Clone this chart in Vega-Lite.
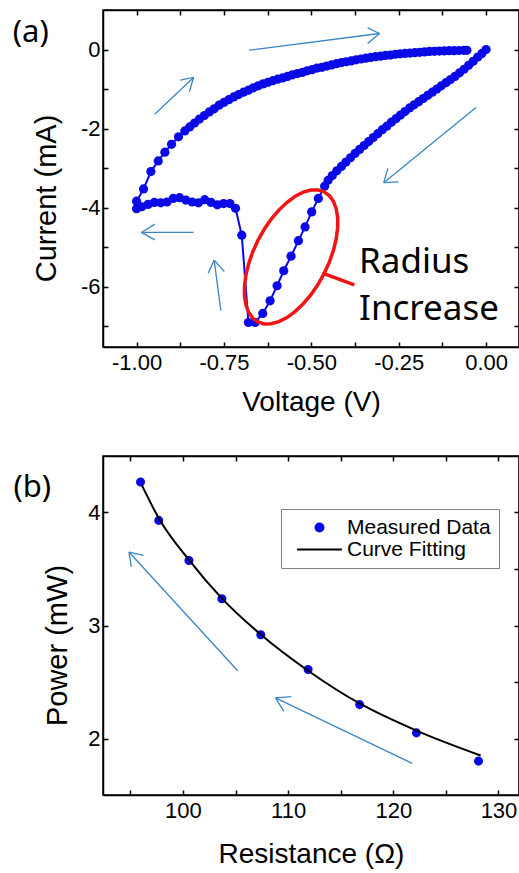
{
  "$schema": "https://vega.github.io/schema/vega-lite/v6.json",
  "background": "white",
  "padding": {"left": 12, "top": 8, "right": 0, "bottom": 0},
  "spacing": 37,
  "config": {
    "view": {"stroke": "black", "strokeWidth": 1.5},
    "axis": {
      "grid": false,
      "domainColor": "black",
      "domainWidth": 1.5,
      "tickColor": "black",
      "tickWidth": 1.5,
      "tickSize": -5,
      "labelFont": "Liberation Sans",
      "labelFontSize": 22,
      "labelColor": "black",
      "labelPadding": 10,
      "labelOverlap": false,
      "labelFlush": false,
      "titleFont": "Liberation Sans",
      "titleFontWeight": "normal",
      "titleColor": "black"
    },
    "axisX": {"titleFontSize": 28},
    "axisY": {"titleFontSize": 29, "labelPadding": 8}
  },
  "datasets": {
    "iv": [
      {"i":0,"V":0,"I":0},{"i":1,"V":-0.012,"I":-0.10},{"i":2,"V":-0.024,"I":-0.19},{"i":3,"V":-0.037,"I":-0.30},
      {"i":4,"V":-0.050,"I":-0.40},{"i":5,"V":-0.063,"I":-0.50},{"i":6,"V":-0.076,"I":-0.59},{"i":7,"V":-0.089,"I":-0.68},
      {"i":8,"V":-0.102,"I":-0.76},{"i":9,"V":-0.115,"I":-0.84},{"i":10,"V":-0.128,"I":-0.92},{"i":11,"V":-0.141,"I":-1.00},
      {"i":12,"V":-0.154,"I":-1.08},{"i":13,"V":-0.167,"I":-1.16},{"i":14,"V":-0.180,"I":-1.24},{"i":15,"V":-0.193,"I":-1.32},
      {"i":16,"V":-0.206,"I":-1.40},{"i":17,"V":-0.219,"I":-1.48},{"i":18,"V":-0.232,"I":-1.57},{"i":19,"V":-0.245,"I":-1.66},
      {"i":20,"V":-0.258,"I":-1.75},{"i":21,"V":-0.271,"I":-1.84},{"i":22,"V":-0.284,"I":-1.94},{"i":23,"V":-0.297,"I":-2.03},
      {"i":24,"V":-0.310,"I":-2.13},{"i":25,"V":-0.323,"I":-2.23},{"i":26,"V":-0.336,"I":-2.33},{"i":27,"V":-0.349,"I":-2.43},
      {"i":28,"V":-0.362,"I":-2.53},{"i":29,"V":-0.375,"I":-2.63},{"i":30,"V":-0.388,"I":-2.74},{"i":31,"V":-0.401,"I":-2.85},
      {"i":32,"V":-0.414,"I":-2.96},{"i":33,"V":-0.427,"I":-3.07},{"i":34,"V":-0.440,"I":-3.19},{"i":35,"V":-0.452,"I":-3.31},
      {"i":36,"V":-0.462,"I":-3.46},
      {"i":37,"V":-0.480,"I":-3.77},{"i":38,"V":-0.499,"I":-4.11},{"i":39,"V":-0.518,"I":-4.49},{"i":40,"V":-0.537,"I":-4.84},
      {"i":41,"V":-0.558,"I":-5.23},{"i":42,"V":-0.579,"I":-5.60},{"i":43,"V":-0.598,"I":-5.98},{"i":44,"V":-0.618,"I":-6.36},
      {"i":45,"V":-0.639,"I":-6.68},{"i":46,"V":-0.661,"I":-6.91},{"i":47,"V":-0.680,"I":-6.91},{"i":48,"V":-0.699,"I":-4.70},
      {"i":49,"V":-0.717,"I":-4.02},
      {"i":50,"V":-0.733,"I":-3.90},{"i":51,"V":-0.751,"I":-3.90},{"i":52,"V":-0.769,"I":-3.93},{"i":53,"V":-0.787,"I":-3.87},
      {"i":54,"V":-0.805,"I":-3.80},{"i":55,"V":-0.823,"I":-3.88},{"i":56,"V":-0.841,"I":-3.86},{"i":57,"V":-0.859,"I":-3.81},
      {"i":58,"V":-0.877,"I":-3.75},{"i":59,"V":-0.895,"I":-3.77},{"i":60,"V":-0.913,"I":-3.86},{"i":61,"V":-0.931,"I":-3.88},
      {"i":62,"V":-0.949,"I":-3.87},{"i":63,"V":-0.967,"I":-3.92},{"i":64,"V":-0.985,"I":-3.98},{"i":65,"V":-1.000,"I":-4.03},
      {"i":66,"V":-1.000,"I":-3.84},
      {"i":67,"V":-0.980,"I":-3.53},{"i":68,"V":-0.959,"I":-3.09},{"i":69,"V":-0.938,"I":-2.82},{"i":70,"V":-0.919,"I":-2.60},
      {"i":71,"V":-0.900,"I":-2.40},{"i":72,"V":-0.880,"I":-2.21},{"i":73,"V":-0.862,"I":-2.06},{"i":74,"V":-0.848,"I":-1.96},
      {"i":75,"V":-0.834,"I":-1.86},{"i":76,"V":-0.820,"I":-1.76},{"i":77,"V":-0.806,"I":-1.67},{"i":78,"V":-0.792,"I":-1.58},
      {"i":79,"V":-0.778,"I":-1.50},{"i":80,"V":-0.764,"I":-1.41},{"i":81,"V":-0.750,"I":-1.34},{"i":82,"V":-0.736,"I":-1.27},
      {"i":83,"V":-0.722,"I":-1.20},{"i":84,"V":-0.708,"I":-1.14},{"i":85,"V":-0.694,"I":-1.08},{"i":86,"V":-0.680,"I":-1.03},
      {"i":87,"V":-0.666,"I":-0.97},{"i":88,"V":-0.652,"I":-0.92},{"i":89,"V":-0.638,"I":-0.87},{"i":90,"V":-0.624,"I":-0.83},
      {"i":91,"V":-0.610,"I":-0.79},{"i":92,"V":-0.596,"I":-0.75},{"i":93,"V":-0.582,"I":-0.72},{"i":94,"V":-0.568,"I":-0.68},
      {"i":95,"V":-0.554,"I":-0.64},{"i":96,"V":-0.540,"I":-0.61},{"i":97,"V":-0.526,"I":-0.58},{"i":98,"V":-0.512,"I":-0.54},
      {"i":99,"V":-0.498,"I":-0.51},{"i":100,"V":-0.484,"I":-0.47},{"i":101,"V":-0.470,"I":-0.45},{"i":102,"V":-0.456,"I":-0.42},
      {"i":103,"V":-0.442,"I":-0.39},{"i":104,"V":-0.428,"I":-0.36},{"i":105,"V":-0.414,"I":-0.33},{"i":106,"V":-0.400,"I":-0.31},
      {"i":107,"V":-0.386,"I":-0.29},{"i":108,"V":-0.372,"I":-0.26},{"i":109,"V":-0.358,"I":-0.24},{"i":110,"V":-0.344,"I":-0.22},
      {"i":111,"V":-0.330,"I":-0.20},{"i":112,"V":-0.316,"I":-0.18},{"i":113,"V":-0.302,"I":-0.17},{"i":114,"V":-0.288,"I":-0.15},
      {"i":115,"V":-0.274,"I":-0.14},{"i":116,"V":-0.260,"I":-0.12},{"i":117,"V":-0.246,"I":-0.11},{"i":118,"V":-0.232,"I":-0.10},
      {"i":119,"V":-0.218,"I":-0.09},{"i":120,"V":-0.204,"I":-0.08},{"i":121,"V":-0.190,"I":-0.07},{"i":122,"V":-0.176,"I":-0.06},
      {"i":123,"V":-0.162,"I":-0.05},{"i":124,"V":-0.148,"I":-0.045},{"i":125,"V":-0.134,"I":-0.04},{"i":126,"V":-0.120,"I":-0.035},
      {"i":127,"V":-0.106,"I":-0.03},{"i":128,"V":-0.092,"I":-0.03},{"i":129,"V":-0.078,"I":-0.025},{"i":130,"V":-0.064,"I":-0.02},
      {"i":131,"V":-0.055,"I":-0.02}
    ],
    "arrowsA": [
      {"x":-0.678,"y":-0.018,"x2":-0.305,"y2":0.405},{"x":-0.339,"y":0.546,"x2":-0.305,"y2":0.405},{"x":-0.339,"y":0.15,"x2":-0.305,"y2":0.405},
      {"x":-0.948,"y":-1.64,"x2":-0.837,"y2":-0.708},{"x":-0.875,"y":-0.776,"x2":-0.837,"y2":-0.708},{"x":-0.849,"y":-1.07,"x2":-0.837,"y2":-0.708},
      {"x":-0.029,"y":-1.47,"x2":-0.293,"y2":-3.37},{"x":-0.281,"y":-3.01,"x2":-0.293,"y2":-3.37},{"x":-0.251,"y":-3.35,"x2":-0.293,"y2":-3.37},
      {"x":-0.837,"y":-4.63,"x2":-0.986,"y2":-4.63},{"x":-0.948,"y":-4.42,"x2":-0.986,"y2":-4.63},{"x":-0.948,"y":-4.82,"x2":-0.986,"y2":-4.63},
      {"x":-0.759,"y":-6.61,"x2":-0.778,"y2":-5.33},{"x":-0.795,"y":-5.66,"x2":-0.778,"y2":-5.33},{"x":-0.749,"y":-5.62,"x2":-0.778,"y2":-5.33}
    ],
    "ellipse": [{"x":-0.558,"y":-5.25}],
    "connector": [{"x":-0.468,"y":-5.66,"x2":-0.377,"y2":-5.96}],
    "radius": [{"x":-0.3636,"y":-5.664,"t":"Radius"},{"x":-0.3636,"y":-6.845,"t":"Increase"}],
    "labelA": [{"x":-1.354,"y":0.19,"t":"(a)"}],
    "measured": [
      {"R":95.97,"P":4.27,"series":"Measured Data"},{"R":97.7,"P":3.93,"series":"Measured Data"},
      {"R":100.57,"P":3.575,"series":"Measured Data"},{"R":103.7,"P":3.236,"series":"Measured Data"},
      {"R":107.4,"P":2.918,"series":"Measured Data"},{"R":111.9,"P":2.61,"series":"Measured Data"},
      {"R":116.8,"P":2.30,"series":"Measured Data"},{"R":122.2,"P":2.05,"series":"Measured Data"},
      {"R":128.1,"P":1.80,"series":"Measured Data"}
    ],
    "fit": [
      {"R":96.1,"P":4.24},{"R":97.7,"P":3.95},{"R":100.57,"P":3.58},{"R":103.7,"P":3.24},{"R":107.4,"P":2.92},
      {"R":111.9,"P":2.60},{"R":116.8,"P":2.31},{"R":122.2,"P":2.07},{"R":128.3,"P":1.85}
    ],
    "arrowsB": [
      {"x":105.2,"y":2.60,"x2":94.87,"y2":3.65},{"x":96.26,"y":3.62,"x2":94.87,"y2":3.65},{"x":95.09,"y":3.52,"x2":94.87,"y2":3.65},
      {"x":121.8,"y":1.78,"x2":108.8,"y2":2.36},{"x":110.3,"y":2.37,"x2":108.8,"y2":2.36},{"x":109.6,"y":2.24,"x2":108.8,"y2":2.36}
    ],
    "labelB": [{"x":83.88,"y":4.139,"t":"(b)"}]
  },
  "vconcat": [
    {
      "width": 416,
      "height": 337,
      "resolve": {"axis": {"x": "independent", "y": "independent"}},
      "layer": [
        {
          "data": {"name": "iv"},
          "mark": {"type": "line", "color": "#0a0ae6", "strokeWidth": 2},
          "encoding": {
            "x": {"field": "V", "type": "quantitative", "scale": {"domain": [-1.096, 0.094], "nice": false, "zero": false},
              "axis": {"title": "Voltage (V)", "values": [-1, -0.875, -0.75, -0.625, -0.5, -0.375, -0.25, -0.125, 0], "format": ".2f",
                "labelExpr": "abs(datum.value*4-round(datum.value*4))<0.001 ? replace(datum.label,'\u2212','-') : ''", "titlePadding": 15}},
            "y": {"field": "I", "type": "quantitative", "scale": {"domain": [-7.53, 1.0], "nice": false, "zero": false},
              "axis": {"title": "Current (mA)", "values": [0, -1, -2, -3, -4, -5, -6, -7],
                "labelExpr": "datum.value%2==0 ? replace(datum.label,'\u2212','-') : ''", "titlePadding": 19, "titleY": 188}},
            "order": {"field": "i", "type": "quantitative"}
          }
        },
        {
          "data": {"name": "iv"},
          "mark": {"type": "point", "filled": true, "shape": "circle", "size": 85, "color": "#0a0ae6", "opacity": 1},
          "encoding": {
            "x": {"field": "V", "type": "quantitative", "scale": {"domain": [-1.096, 0.094], "nice": false, "zero": false}, "axis": null},
            "y": {"field": "I", "type": "quantitative", "scale": {"domain": [-7.53, 1.0], "nice": false, "zero": false}, "axis": null}
          }
        },
        {
          "data": {"name": "arrowsA"},
          "mark": {"type": "rule", "color": "#3c86c4", "strokeWidth": 1.3},
          "encoding": {
            "x": {"field": "x", "type": "quantitative", "scale": {"domain": [-1.096, 0.094], "nice": false, "zero": false}, "axis": null},
            "y": {"field": "y", "type": "quantitative", "scale": {"domain": [-7.53, 1.0], "nice": false, "zero": false}, "axis": null},
            "x2": {"field": "x2"},
            "y2": {"field": "y2"}
          }
        },
        {
          "data": {"name": "ellipse"},
          "mark": {"type": "point", "filled": false, "opacity": 1, "size": 21316, "stroke": "#f01414", "strokeWidth": 3.5,
            "shape": "M0.454,-0.891L0.526,-0.838L0.582,-0.758L0.619,-0.657L0.639,-0.535L0.638,-0.397L0.618,-0.247L0.580,-0.089L0.524,0.072L0.452,0.230L0.366,0.382L0.270,0.521L0.164,0.645L0.054,0.749L-0.057,0.831L-0.167,0.887L-0.272,0.916L-0.368,0.918L-0.454,0.891L-0.526,0.838L-0.582,0.758L-0.619,0.657L-0.639,0.535L-0.638,0.397L-0.618,0.247L-0.580,0.089L-0.524,-0.072L-0.452,-0.230L-0.366,-0.382L-0.270,-0.521L-0.164,-0.645L-0.054,-0.749L0.057,-0.831L0.167,-0.887L0.272,-0.916L0.368,-0.918Z"},
          "encoding": {
            "x": {"field": "x", "type": "quantitative", "scale": {"domain": [-1.096, 0.094], "nice": false, "zero": false}, "axis": null},
            "y": {"field": "y", "type": "quantitative", "scale": {"domain": [-7.53, 1.0], "nice": false, "zero": false}, "axis": null}
          }
        },
        {
          "data": {"name": "connector"},
          "mark": {"type": "rule", "color": "#f01414", "strokeWidth": 3.5},
          "encoding": {
            "x": {"field": "x", "type": "quantitative", "scale": {"domain": [-1.096, 0.094], "nice": false, "zero": false}, "axis": null},
            "y": {"field": "y", "type": "quantitative", "scale": {"domain": [-7.53, 1.0], "nice": false, "zero": false}, "axis": null},
            "x2": {"field": "x2"},
            "y2": {"field": "y2"}
          }
        },
        {
          "data": {"name": "radius"},
          "mark": {"type": "text", "font": "Noto Sans", "fontSize": 35, "color": "black", "align": "left", "baseline": "alphabetic"},
          "encoding": {
            "x": {"field": "x", "type": "quantitative", "scale": {"domain": [-1.096, 0.094], "nice": false, "zero": false}, "axis": null},
            "y": {"field": "y", "type": "quantitative", "scale": {"domain": [-7.53, 1.0], "nice": false, "zero": false}, "axis": null},
            "text": {"field": "t"}
          }
        },
        {
          "data": {"name": "labelA"},
          "mark": {"type": "text", "font": "Noto Sans", "fontSize": 31, "color": "black", "align": "left", "baseline": "alphabetic"},
          "encoding": {
            "x": {"field": "x", "type": "quantitative", "scale": {"domain": [-1.096, 0.094], "nice": false, "zero": false}, "axis": null},
            "y": {"field": "y", "type": "quantitative", "scale": {"domain": [-7.53, 1.0], "nice": false, "zero": false}, "axis": null},
            "text": {"field": "t"}
          }
        },
        {
          "data": {"name": "ellipse"},
          "mark": {"type": "point", "opacity": 0},
          "encoding": {
            "x": {"field": "x", "type": "quantitative", "scale": {"domain": [-1.096, 0.094], "nice": false, "zero": false},
              "axis": {"orient": "top", "labels": false, "title": null, "values": [-1, -0.875, -0.75, -0.625, -0.5, -0.375, -0.25, -0.125, 0]}},
            "y": {"field": "y", "type": "quantitative", "scale": {"domain": [-7.53, 1.0], "nice": false, "zero": false},
              "axis": {"orient": "right", "labels": false, "title": null, "values": [0, -1, -2, -3, -4, -5, -6, -7]}}
          }
        }
      ]
    },
    {
      "width": 416,
      "height": 339,
      "resolve": {"axis": {"x": "independent", "y": "independent"}},
      "layer": [
        {
          "data": {"name": "measured"},
          "mark": {"type": "point", "filled": true, "size": 50, "strokeWidth": 2, "opacity": 1},
          "encoding": {
            "x": {"field": "R", "type": "quantitative", "scale": {"domain": [92.4, 131.95], "nice": false, "zero": false},
              "axis": {"title": "Resistance (Ω)", "values": [95, 100, 105, 110, 115, 120, 125, 130],
                "labelExpr": "datum.value%10==0 ? datum.label : ''", "titlePadding": 19}},
            "y": {"field": "P", "type": "quantitative", "scale": {"domain": [1.5, 4.5], "nice": false, "zero": false},
              "axis": {"title": "Power (mW)", "values": [2, 2.5, 3, 3.5, 4], "format": "d",
                "labelExpr": "datum.value%1==0 ? datum.label : ''", "titlePadding": 15, "titleY": 189}},
            "fill": {"field": "series", "type": "nominal",
              "scale": {"domain": ["Measured Data", "Curve Fitting"], "range": ["#0a0ae6", "#000000"]},
              "legend": {"orient": "none", "legendX": 178, "legendY": 499, "title": null, "padding": 8, "strokeColor": "#808080", "fillColor": "white",
                "labelFont": "Liberation Sans", "labelFontSize": 21, "labelColor": "black", "labelOffset": 17, "symbolOffset": 20, "symbolSize": 64, "symbolStrokeWidth": 2, "rowPadding": 0}},
            "stroke": {"field": "series", "type": "nominal",
              "scale": {"domain": ["Measured Data", "Curve Fitting"], "range": ["#0a0ae6", "#000000"]},
              "legend": {"orient": "none", "legendX": 178, "legendY": 499, "title": null, "padding": 8, "strokeColor": "#808080", "fillColor": "white",
                "labelFont": "Liberation Sans", "labelFontSize": 21, "labelColor": "black", "labelOffset": 17, "symbolOffset": 20, "symbolSize": 64, "symbolStrokeWidth": 2, "rowPadding": 0}},
            "shape": {"field": "series", "type": "nominal",
              "scale": {"domain": ["Measured Data", "Curve Fitting"], "range": ["circle", "M-5.6,0L5.6,0"]},
              "legend": {"orient": "none", "legendX": 178, "legendY": 499, "title": null, "padding": 8, "strokeColor": "#808080", "fillColor": "white",
                "labelFont": "Liberation Sans", "labelFontSize": 21, "labelColor": "black", "labelOffset": 17, "symbolOffset": 20, "symbolSize": 64, "symbolStrokeWidth": 2, "rowPadding": 0}}
          }
        },
        {
          "data": {"name": "fit"},
          "mark": {"type": "line", "color": "black", "strokeWidth": 2, "interpolate": "monotone"},
          "encoding": {
            "x": {"field": "R", "type": "quantitative", "scale": {"domain": [92.4, 131.95], "nice": false, "zero": false}, "axis": null},
            "y": {"field": "P", "type": "quantitative", "scale": {"domain": [1.5, 4.5], "nice": false, "zero": false}, "axis": null}
          }
        },
        {
          "data": {"name": "arrowsB"},
          "mark": {"type": "rule", "color": "#3c86c4", "strokeWidth": 1.3},
          "encoding": {
            "x": {"field": "x", "type": "quantitative", "scale": {"domain": [92.4, 131.95], "nice": false, "zero": false}, "axis": null},
            "y": {"field": "y", "type": "quantitative", "scale": {"domain": [1.5, 4.5], "nice": false, "zero": false}, "axis": null},
            "x2": {"field": "x2"},
            "y2": {"field": "y2"}
          }
        },
        {
          "data": {"name": "labelB"},
          "mark": {"type": "text", "font": "Noto Sans", "fontSize": 31, "color": "black", "align": "left", "baseline": "alphabetic"},
          "encoding": {
            "x": {"field": "x", "type": "quantitative", "scale": {"domain": [92.4, 131.95], "nice": false, "zero": false}, "axis": null},
            "y": {"field": "y", "type": "quantitative", "scale": {"domain": [1.5, 4.5], "nice": false, "zero": false}, "axis": null},
            "text": {"field": "t"}
          }
        },
        {
          "data": {"name": "measured"},
          "mark": {"type": "point", "opacity": 0},
          "encoding": {
            "x": {"field": "R", "type": "quantitative", "scale": {"domain": [92.4, 131.95], "nice": false, "zero": false},
              "axis": {"orient": "top", "labels": false, "title": null, "values": [95, 100, 105, 110, 115, 120, 125, 130]}},
            "y": {"field": "P", "type": "quantitative", "scale": {"domain": [1.5, 4.5], "nice": false, "zero": false},
              "axis": {"orient": "right", "labels": false, "title": null, "values": [2, 2.5, 3, 3.5, 4]}}
          }
        }
      ]
    }
  ]
}
